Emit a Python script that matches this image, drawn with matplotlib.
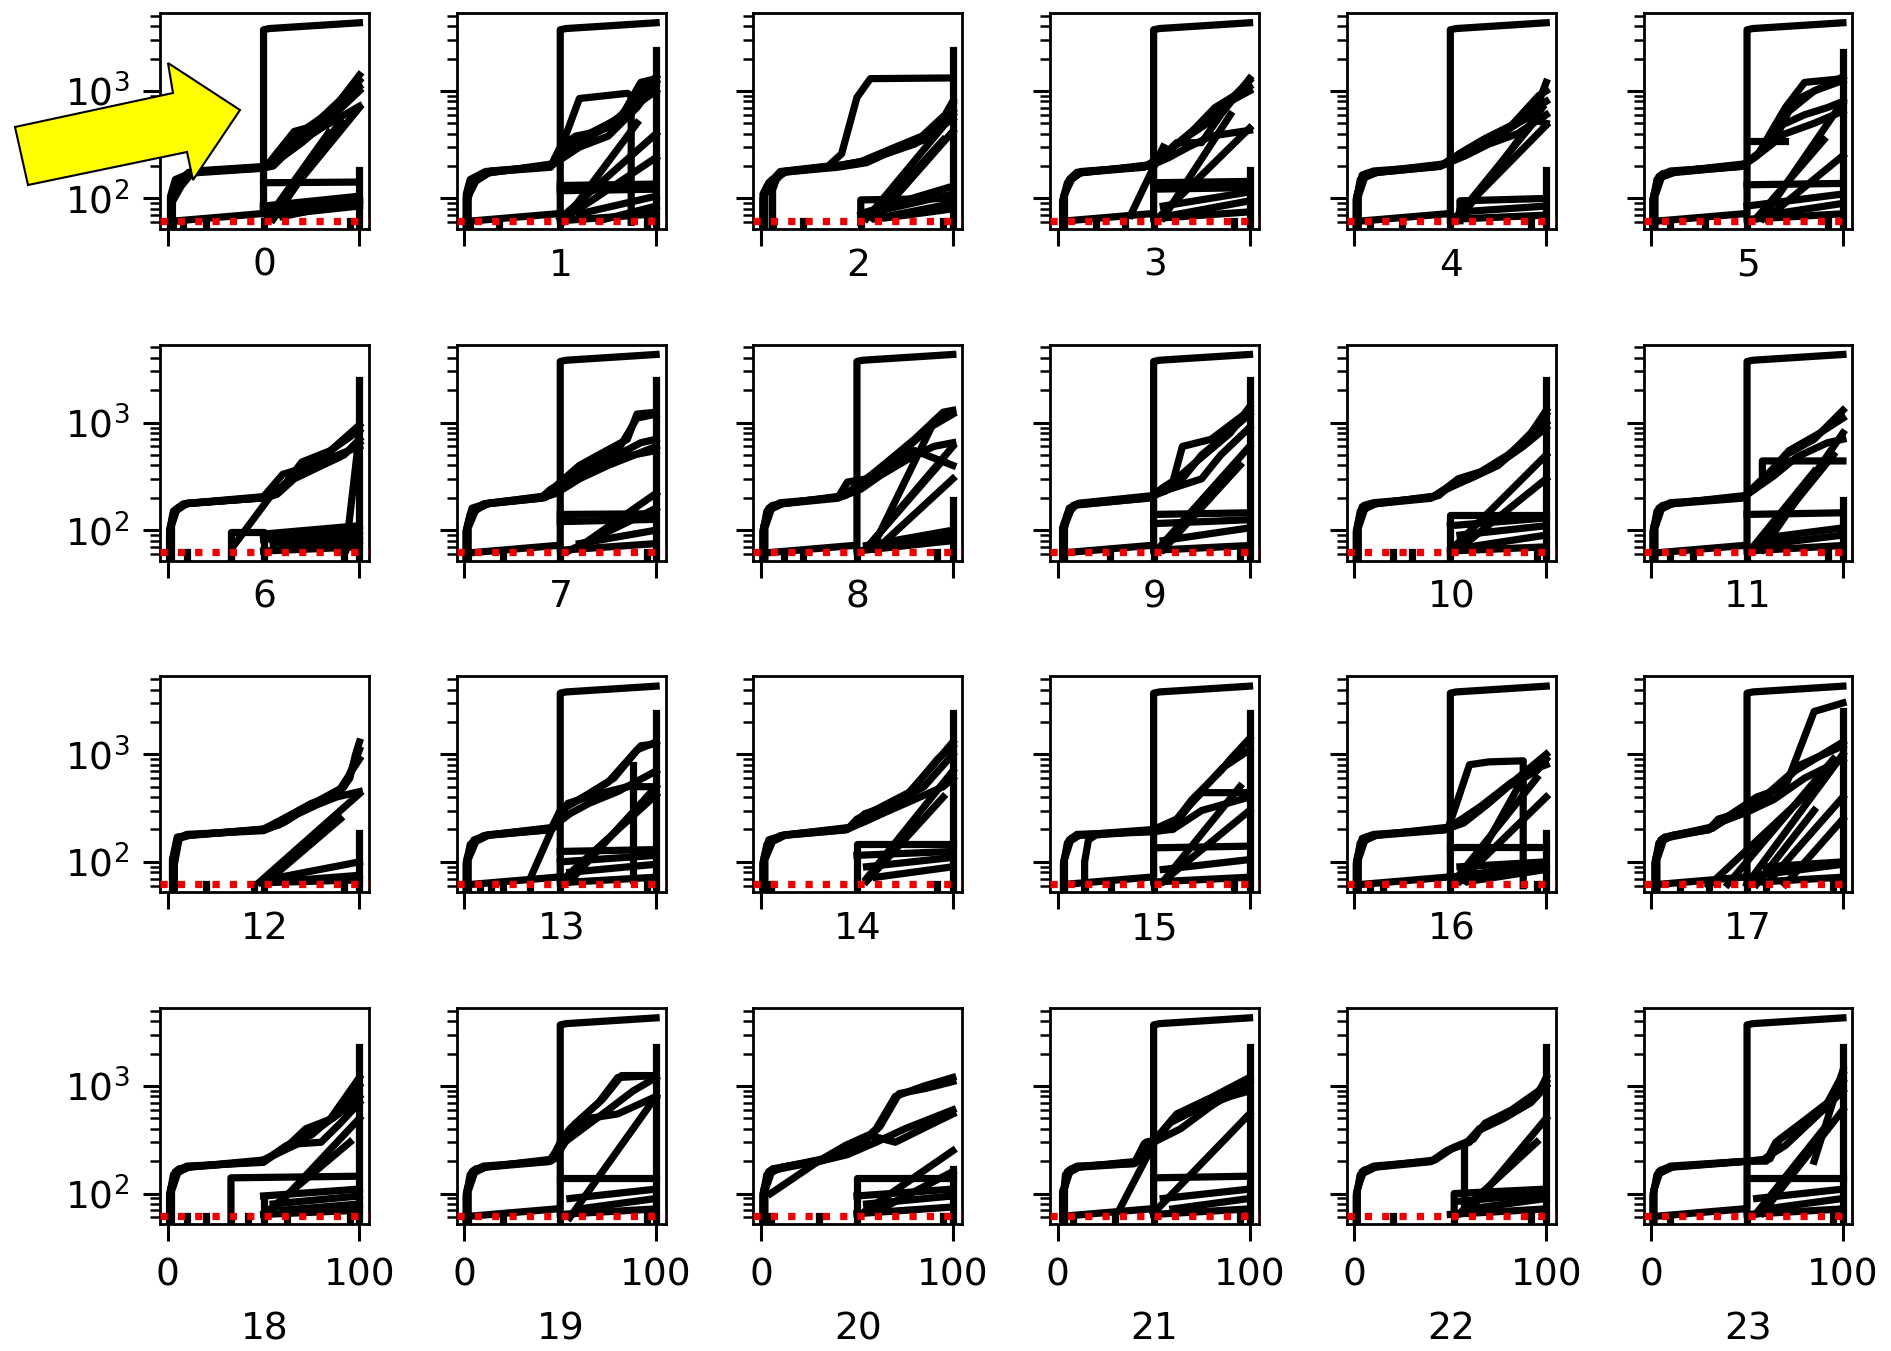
import matplotlib
matplotlib.use("Agg")
import matplotlib.pyplot as plt
from matplotlib.patches import Polygon
from matplotlib.ticker import NullFormatter, LogLocator

# ---------------- data ----------------
panel_labels = [str(i) for i in range(24)]
x_ticks = [0, 100]
y_ticks = [100, 1000]
threshold = 62

# outlier path (vertical jump at x=50), present in some panels
outlier_x = [5, 48, 50, 50, 53, 100]
outlier_y = [62, 72, 72, 3700, 3800, 4300]
outlier_panels = [0, 1, 3, 4, 5, 7, 8, 9, 11, 13, 15, 16, 17, 19, 21, 23]

# height of the vertical line at x=100 in each panel
spike_tops = [185, 2400, 2400, 185, 185, 2300,
              2500, 2500, 190, 2500, 2500, 190,
              185, 2400, 2400, 2400, 185, 2500,
              2300, 2300, 170, 2300, 2300, 2300]

# short segments hitting the bottom edge
notch_x = [[3, 8, 20, 50, 95], [3, 18, 50, 95], [1, 6, 22, 52, 95],
           [3, 20, 35, 50, 92], [1, 8, 25, 50, 92], [1, 10, 28, 50, 92],
           [1, 10, 33, 50, 92], [2, 20, 50, 95], [1, 12, 22, 50, 92],
           [3, 27, 50, 95], [1, 20, 30, 50, 95], [1, 10, 22, 50, 92],
           [3, 20, 45, 50, 92], [2, 8, 14, 20, 34, 50, 95], [1, 5, 50, 92],
           [3, 14, 28, 50, 92], [1, 8, 15, 50, 95], [2, 15, 30, 50, 60, 95],
           [1, 10, 20, 33, 42, 50, 62, 95], [2, 20, 50, 95], [1, 5, 30, 50, 95],
           [3, 8, 30, 50, 95], [1, 20, 52, 92], [1, 10, 50, 95]]

curves_p0 = [
    ([1.5, 1.5, 4, 10, 14, 50, 55, 65, 70, 80, 90, 100], [50, 100, 125, 165, 180, 198, 215, 380, 420, 560, 820, 1400]),
    ([2, 2, 6, 12, 15, 50, 56, 64, 72, 85, 100], [50, 95, 130, 170, 178, 195, 210, 330, 380, 620, 1250]),
    ([2.5, 2.5, 5, 11, 50, 55, 65, 80, 100], [52, 110, 140, 175, 192, 200, 300, 450, 720]),
    ([1.5, 1.5, 4, 12, 48, 52, 66, 78, 92, 100], [52, 105, 150, 172, 190, 205, 420, 480, 900, 1100]),
    ([2, 2, 7, 13, 50, 58, 70, 85, 100], [52, 90, 130, 176, 196, 230, 330, 560, 1000]),
    ([52, 84], [65, 410]), ([53, 100], [66, 700]), ([55, 90], [64, 520]),
    ([50, 100], [140, 142]), ([50, 100], [80, 100]), ([50, 100], [75, 90]),
    ([55, 100], [70, 85]), ([60, 100], [68, 95]), ([50, 100], [85, 105]),
]
curves_p1 = [
    ([1, 1, 4, 10, 14, 45, 50, 58, 70, 80, 88, 92, 100], [50, 100, 140, 170, 180, 198, 300, 380, 420, 500, 900, 1200, 1300]),
    ([1.5, 1.5, 5, 12, 45, 52, 60, 85, 87, 87], [50, 95, 150, 176, 195, 350, 850, 950, 900, 60]),
    ([1, 1, 3, 11, 45, 60, 75, 90, 100], [52, 110, 150, 178, 200, 300, 380, 700, 1200]),
    ([2, 2, 6, 13, 46, 55, 65, 80, 95, 100], [52, 105, 145, 174, 205, 320, 400, 550, 1100, 1350]),
    ([1.5, 1.5, 4, 12, 46, 56, 70, 85, 100], [52, 100, 140, 172, 210, 290, 420, 650, 1000]),
    ([50, 100], [65, 400]), ([52, 90], [62, 500]), ([55, 100], [70, 240]),
    ([50, 100], [132, 136]), ([50, 100], [118, 122]), ([60, 100], [72, 105]),
    ([70, 100], [62, 85]), ([50, 100], [62, 72]),
]
curves_p2 = [
    ([1, 1, 3, 10, 35, 42, 50, 57, 100], [50, 110, 130, 178, 200, 260, 870, 1300, 1320]),
    ([6, 6, 8, 12, 40, 50, 60, 70, 85, 95, 100], [52, 120, 150, 178, 200, 210, 240, 280, 350, 500, 750]),
    ([1.5, 1.5, 4, 11, 40, 55, 65, 80, 92, 100], [52, 105, 140, 175, 195, 215, 260, 320, 450, 650]),
    ([1, 1, 5, 12, 42, 58, 72, 88, 100], [52, 100, 145, 178, 205, 230, 300, 400, 550]),
    ([2, 2, 6, 13, 38, 52, 68, 84, 96, 100], [52, 110, 150, 176, 198, 220, 290, 380, 600, 800]),
    ([55, 100], [65, 600]), ([60, 100], [65, 420]), ([58, 95], [66, 350]),
    ([52, 52, 100], [60, 97, 100]), ([52, 100], [70, 110]), ([60, 100], [65, 90]),
    ([55, 100], [75, 130]), ([65, 100], [66, 80]),
]
curves_p3 = [
    ([3, 3, 6, 10, 48, 55, 62, 75, 85, 100], [50, 100, 150, 175, 200, 250, 330, 330, 600, 1300]),
    ([3.5, 3.5, 7, 12, 46, 52, 60, 70, 82, 100], [52, 110, 155, 178, 198, 230, 300, 420, 700, 1100]),
    ([2.5, 2.5, 5, 11, 47, 56, 66, 78, 90, 100], [52, 95, 140, 172, 205, 260, 360, 500, 800, 1000]),
    ([3, 3, 8, 13, 48, 58, 68, 80, 100], [52, 105, 160, 176, 200, 240, 300, 380, 430]),
    ([3, 3, 6, 12, 45, 54, 64, 76, 92, 100], [52, 100, 145, 174, 195, 245, 340, 520, 900, 1250]),
    ([38, 55], [70, 300]), ([52, 100], [65, 450]), ([55, 90], [66, 600]),
    ([50, 100], [140, 144]), ([50, 100], [122, 126]), ([55, 100], [85, 115]),
    ([60, 100], [70, 95]), ([50, 100], [65, 75]),
]
curves_p4 = [
    ([1, 1, 4, 10, 45, 50, 60, 75, 85, 95, 100], [50, 100, 165, 180, 200, 230, 280, 380, 500, 700, 1200]),
    ([1.5, 1.5, 5, 12, 46, 55, 65, 80, 92, 100], [52, 110, 160, 176, 205, 260, 330, 450, 650, 800]),
    ([1, 1, 3, 11, 44, 52, 62, 78, 90, 100], [52, 95, 150, 174, 198, 240, 300, 420, 560, 500]),
    ([2, 2, 6, 13, 47, 56, 68, 82, 96, 100], [52, 105, 170, 178, 210, 270, 360, 480, 900, 1000]),
    ([1, 1, 4, 12, 45, 58, 70, 85, 100], [52, 100, 155, 175, 200, 250, 320, 400, 600]),
    ([52, 100], [65, 480]), ([55, 98], [65, 700]), ([53, 95], [66, 550]),
    ([55, 55, 100], [62, 95, 100]), ([55, 100], [75, 85]), ([50, 100], [64, 70]),
]
curves_p5 = [
    ([1, 1, 4, 10, 48, 56, 62, 70, 80, 100], [50, 100, 160, 180, 200, 260, 400, 700, 1200, 1300]),
    ([1.5, 1.5, 5, 12, 48, 55, 65, 72, 85, 100], [52, 110, 165, 178, 205, 250, 440, 650, 1000, 1250]),
    ([1, 1, 3, 11, 47, 58, 68, 80, 92, 100], [52, 95, 150, 176, 198, 280, 480, 600, 700, 800]),
    ([2, 2, 6, 13, 49, 60, 70, 85, 100], [52, 105, 170, 178, 210, 300, 400, 500, 650]),
    ([1, 1, 4, 12, 47, 54, 64, 74, 90, 100], [52, 100, 155, 174, 200, 240, 330, 800, 1100, 1350]),
    ([50, 70], [345, 345]),
    ([58, 100], [65, 800]), ([55, 90], [66, 350]), ([60, 100], [65, 250]),
    ([50, 100], [134, 138]), ([50, 100], [85, 110]), ([60, 100], [70, 90]), ([50, 100], [64, 72]),
]
curves_p6 = [
    ([1, 1, 3, 8, 50, 55, 62, 70, 85, 100], [50, 100, 150, 175, 200, 210, 280, 430, 550, 950]),
    ([1.5, 1.5, 4, 10, 48, 56, 64, 74, 88, 100], [52, 105, 155, 178, 198, 220, 300, 400, 600, 850]),
    ([1, 1, 3, 9, 49, 58, 68, 80, 92, 100], [52, 95, 145, 176, 202, 230, 330, 420, 500, 700]),
    ([2, 2, 5, 11, 50, 60, 75, 100], [52, 110, 160, 178, 205, 330, 400, 600]),
    ([1, 1, 4, 10, 50, 57, 66, 78, 90, 100], [52, 100, 150, 177, 200, 215, 300, 380, 480, 650]),
    ([33, 33, 50, 50], [52, 97, 97, 60]),
    ([34, 57], [70, 250]), ([93, 100], [66, 800]),
    ([50, 100], [92, 110]), ([50, 100], [82, 98]), ([55, 100], [75, 88]),
    ([60, 100], [68, 80]), ([50, 100], [64, 70]),
]
curves_p7 = [
    ([1, 1, 5, 10, 40, 45, 55, 65, 80, 90, 100], [50, 100, 150, 175, 200, 240, 300, 400, 550, 1100, 1200]),
    ([1.5, 1.5, 4, 12, 42, 48, 60, 75, 85, 90, 100], [52, 110, 160, 178, 205, 260, 400, 560, 700, 1200, 1250]),
    ([1, 1, 3, 11, 40, 48, 60, 75, 100], [52, 95, 140, 176, 198, 220, 300, 400, 600]),
    ([2, 2, 6, 13, 44, 52, 64, 78, 92, 100], [52, 105, 155, 178, 210, 280, 360, 480, 650, 700]),
    ([1, 1, 4, 10, 42, 50, 62, 72, 88, 100], [52, 100, 150, 174, 200, 250, 330, 450, 500, 550]),
    ([60, 100], [70, 220]), ([55, 100], [65, 160]),
    ([50, 100], [140, 142]), ([50, 100], [120, 126]), ([60, 100], [75, 100]), ([50, 100], [65, 75]),
]
curves_p8 = [
    ([1, 1, 4, 10, 40, 45, 55, 65, 80, 95, 100], [50, 100, 160, 180, 200, 280, 300, 420, 700, 1250, 1300]),
    ([1.5, 1.5, 5, 12, 42, 50, 60, 72, 88, 100], [52, 110, 165, 178, 205, 260, 350, 500, 900, 1200]),
    ([1, 1, 3, 11, 40, 52, 62, 76, 90, 100], [52, 95, 150, 176, 198, 240, 320, 450, 600, 650]),
    ([2, 2, 6, 13, 44, 54, 66, 80, 100], [52, 105, 170, 178, 210, 290, 380, 550, 400]),
    ([55, 95], [68, 450]), ([55, 100], [68, 600]), ([58, 90], [68, 1000]), ([60, 100], [66, 300]),
    ([55, 100], [72, 100]), ([50, 100], [64, 80]), ([65, 100], [70, 90]),
]
curves_p9 = [
    ([3, 3, 6, 8, 48, 55, 62, 70, 90, 100], [50, 100, 150, 170, 200, 250, 300, 400, 800, 1400]),
    ([3.5, 3.5, 7, 10, 48, 56, 65, 75, 85, 100], [52, 110, 155, 175, 205, 230, 300, 500, 700, 1200]),
    ([3, 3, 5, 9, 47, 55, 75, 85, 100], [52, 95, 140, 172, 198, 230, 300, 500, 900]),
    ([2.5, 2.5, 6, 11, 50, 60, 65, 80, 100], [52, 105, 160, 178, 210, 280, 600, 700, 1300]),
    ([52, 100], [66, 600]), ([55, 95], [66, 400]),
    ([50, 100], [140, 145]), ([50, 100], [115, 125]), ([55, 100], [80, 105]), ([50, 100], [65, 72]),
]
curves_p10 = [
    ([1, 1, 5, 10, 40, 50, 60, 75, 90, 100], [50, 100, 170, 180, 200, 260, 300, 400, 700, 1300]),
    ([1.5, 1.5, 4, 12, 42, 52, 62, 78, 92, 100], [52, 110, 165, 178, 205, 280, 320, 450, 800, 1200]),
    ([1, 1, 3, 11, 40, 48, 58, 72, 88, 100], [52, 95, 150, 176, 198, 240, 290, 380, 600, 900]),
    ([2, 2, 6, 13, 44, 54, 66, 80, 100], [52, 105, 170, 178, 210, 300, 350, 500, 1000]),
    ([50, 50, 100], [60, 137, 137]),
    ([52, 100], [70, 500]), ([55, 100], [68, 300]),
    ([50, 100], [110, 130]), ([55, 100], [90, 110]), ([60, 100], [70, 90]), ([50, 100], [64, 70]),
]
curves_p11 = [
    ([1, 1, 4, 10, 48, 55, 60, 70, 85, 100], [50, 100, 160, 180, 200, 250, 300, 500, 700, 1300]),
    ([1.5, 1.5, 5, 12, 48, 56, 62, 72, 88, 100], [52, 110, 165, 178, 205, 260, 350, 550, 800, 1100]),
    ([1, 1, 3, 11, 47, 54, 64, 76, 92, 100], [52, 95, 150, 176, 198, 240, 320, 480, 650, 700]),
    ([2, 2, 6, 13, 49, 58, 58, 100], [52, 105, 170, 178, 210, 300, 440, 440]),
    ([55, 95], [66, 500]), ([58, 100], [66, 800]), ([52, 85], [66, 350]),
    ([50, 100], [140, 145]), ([60, 100], [85, 105]), ([55, 100], [72, 90]), ([50, 100], [64, 72]),
]
curves_p12 = [
    ([3, 3, 5, 10, 50, 60, 70, 80, 90, 95, 98, 100], [50, 100, 165, 180, 195, 230, 300, 380, 450, 600, 1000, 1300]),
    ([3, 3, 6, 12, 50, 62, 72, 82, 92, 97, 100], [52, 110, 170, 178, 200, 240, 320, 400, 500, 800, 1100]),
    ([3.5, 3.5, 6, 11, 48, 58, 68, 78, 88, 100], [52, 95, 165, 176, 198, 220, 280, 340, 400, 450]),
    ([2.5, 2.5, 5, 13, 50, 60, 75, 88, 96, 100], [52, 105, 170, 178, 202, 250, 350, 420, 700, 900]),
    ([48, 100], [65, 430]), ([52, 90], [66, 250]),
    ([55, 100], [70, 100]), ([60, 100], [66, 75]), ([50, 100], [64, 68]),
]
curves_p13 = [
    ([1, 1, 4, 10, 45, 50, 60, 75, 90, 100], [50, 100, 150, 175, 200, 300, 380, 550, 1100, 1300]),
    ([1.5, 1.5, 5, 12, 46, 52, 62, 78, 92, 100], [52, 110, 160, 178, 205, 320, 400, 600, 1200, 1250]),
    ([1, 1, 3, 11, 44, 55, 65, 80, 100], [52, 95, 145, 176, 198, 280, 350, 450, 700]),
    ([2, 2, 6, 13, 47, 54, 68, 85, 100], [52, 105, 155, 178, 210, 350, 420, 500, 500]),
    ([88, 88], [68, 800]),
    ([34, 50], [68, 300]), ([52, 100], [70, 420]), ([55, 100], [66, 500]),
    ([50, 100], [125, 130]), ([50, 100], [100, 115]), ([55, 100], [80, 95]), ([50, 100], [64, 72]),
]
curves_p14 = [
    ([1, 1, 5, 10, 45, 50, 60, 75, 90, 100], [50, 100, 150, 175, 200, 250, 300, 400, 800, 1300]),
    ([1.5, 1.5, 4, 12, 46, 52, 62, 78, 92, 100], [52, 110, 160, 178, 205, 260, 320, 450, 900, 1200]),
    ([1, 1, 3, 11, 44, 55, 65, 80, 95, 100], [52, 95, 145, 176, 198, 240, 290, 380, 500, 600]),
    ([2, 2, 6, 13, 47, 54, 68, 85, 100], [52, 105, 155, 178, 210, 280, 340, 500, 1000]),
    ([50, 50, 100], [68, 145, 145]),
    ([55, 100], [70, 700]), ([55, 95], [66, 400]),
    ([50, 100], [115, 125]), ([55, 100], [90, 110]), ([60, 100], [72, 90]),
]
curves_p15 = [
    ([3, 3, 6, 10, 50, 58, 70, 85, 90, 100], [50, 100, 160, 180, 190, 200, 380, 700, 900, 1400]),
    ([14, 14, 16, 20, 50, 60, 72, 86, 100], [52, 100, 160, 178, 195, 210, 400, 750, 1100]),
    ([3, 3, 5, 11, 48, 60, 75, 100], [52, 95, 150, 176, 195, 200, 300, 400]),
    ([3.5, 3.5, 7, 12, 50, 62, 75, 100], [52, 105, 165, 178, 200, 250, 440, 440]),
    ([55, 95], [66, 500]), ([55, 100], [66, 300]),
    ([50, 100], [135, 140]), ([55, 100], [85, 105]), ([50, 100], [65, 72]),
]
curves_p16 = [
    ([1, 1, 4, 10, 48, 55, 65, 80, 95, 100], [50, 100, 165, 180, 200, 240, 300, 500, 700, 900]),
    ([1.5, 1.5, 5, 12, 48, 56, 66, 82, 96, 100], [52, 110, 160, 178, 205, 250, 330, 550, 750, 800]),
    ([1, 1, 3, 11, 47, 57, 70, 85, 100], [52, 95, 150, 176, 198, 230, 350, 600, 1000]),
    ([2, 2, 6, 13, 49, 52, 60, 70, 88, 88], [52, 105, 170, 178, 210, 300, 800, 850, 870, 60]),
    ([52, 95], [66, 600]), ([55, 100], [66, 400]), ([58, 90], [66, 700]),
    ([50, 100], [137, 137]), ([55, 100], [90, 100]), ([50, 100], [72, 95]), ([60, 100], [66, 85]),
]
curves_p17 = [
    ([2, 2, 5, 10, 30, 35, 50, 60, 75, 100], [50, 100, 160, 170, 200, 250, 300, 400, 700, 1300]),
    ([2.5, 2.5, 6, 12, 32, 40, 52, 62, 78, 100], [52, 110, 165, 178, 205, 260, 320, 450, 800, 1200]),
    ([2, 2, 4, 11, 30, 38, 50, 64, 80, 100], [52, 95, 150, 176, 198, 240, 290, 380, 600, 900]),
    ([3, 3, 7, 13, 31, 42, 55, 70, 85, 100], [52, 105, 170, 178, 210, 280, 400, 500, 2500, 3000]),
    ([30, 90], [60, 600]), ([40, 95], [62, 900]), ([50, 100], [62, 1000]),
    ([60, 100], [62, 400]), ([70, 100], [62, 250]), ([55, 85], [62, 300]),
    ([60, 100], [90, 100]), ([55, 100], [75, 95]), ([50, 100], [64, 72]),
]
curves_p18 = [
    ([1, 1, 4, 10, 50, 60, 65, 75, 85, 100], [50, 100, 160, 180, 195, 260, 300, 350, 500, 1200]),
    ([1.5, 1.5, 5, 12, 50, 62, 70, 80, 92, 100], [52, 110, 165, 178, 200, 280, 320, 420, 600, 1000]),
    ([1, 1, 3, 11, 48, 58, 68, 80, 90, 100], [52, 95, 150, 176, 198, 240, 290, 300, 450, 700]),
    ([2, 2, 6, 13, 50, 60, 72, 86, 100], [52, 105, 170, 178, 205, 250, 400, 500, 800]),
    ([33, 33, 100], [52, 140, 145]), ([50, 50], [60, 95]),
    ([55, 100], [70, 500]), ([52, 95], [68, 300]),
    ([50, 100], [95, 110]), ([55, 100], [80, 95]), ([60, 100], [70, 80]), ([50, 100], [64, 70]),
]
curves_p19 = [
    ([1, 1, 4, 10, 45, 50, 55, 70, 80, 100], [50, 100, 160, 180, 200, 300, 400, 700, 1200, 1250]),
    ([1.5, 1.5, 5, 12, 46, 52, 58, 72, 82, 100], [52, 110, 165, 178, 205, 320, 450, 750, 1250, 1250]),
    ([1, 1, 3, 11, 44, 50, 60, 75, 88, 100], [52, 95, 150, 176, 198, 280, 380, 600, 900, 1200]),
    ([2, 2, 6, 13, 47, 55, 65, 80, 100], [52, 105, 170, 178, 210, 350, 500, 550, 800]),
    ([55, 100], [60, 800]),
    ([50, 100], [140, 140]), ([55, 100], [90, 110]), ([60, 100], [72, 90]), ([50, 100], [64, 72]),
]
curves_p20 = [
    ([1, 1, 4, 10, 30, 40, 50, 60, 70, 85, 100], [50, 100, 160, 170, 200, 250, 270, 400, 800, 1000, 1200]),
    ([1.5, 1.5, 5, 12, 32, 42, 52, 62, 72, 86, 100], [52, 110, 165, 178, 205, 260, 280, 420, 850, 950, 1100]),
    ([1, 1, 3, 11, 30, 45, 60, 75, 100], [52, 95, 150, 176, 198, 230, 300, 400, 600]),
    ([5, 30], [100, 200]),
    ([2, 2, 6, 13, 32, 44, 56, 70, 90, 100], [52, 105, 170, 178, 210, 280, 350, 300, 450, 550]),
    ([50, 50, 100], [65, 140, 140]),
    ([55, 100], [70, 250]), ([60, 100], [68, 160]),
    ([50, 100], [95, 110]), ([55, 100], [80, 95]), ([50, 100], [65, 75]),
]
curves_p21 = [
    ([3, 3, 5, 10, 40, 45, 50, 60, 75, 100], [50, 100, 160, 180, 190, 290, 300, 500, 700, 1200]),
    ([3.5, 3.5, 6, 12, 40, 46, 52, 62, 78, 100], [52, 110, 165, 178, 195, 300, 320, 550, 750, 1000]),
    ([3, 3, 4, 11, 40, 48, 58, 72, 90, 100], [52, 95, 150, 176, 190, 280, 450, 600, 800, 900]),
    ([2.5, 2.5, 7, 13, 42, 50, 64, 80, 100], [52, 105, 170, 178, 200, 300, 400, 650, 1100]),
    ([32, 50], [70, 290]), ([50, 100], [66, 550]),
    ([50, 100], [140, 145]), ([55, 100], [90, 110]), ([60, 100], [72, 90]), ([50, 100], [64, 72]),
]
curves_p22 = [
    ([1, 1, 4, 10, 40, 50, 60, 65, 80, 95, 100], [50, 100, 160, 180, 200, 260, 300, 400, 550, 800, 1200]),
    ([1.5, 1.5, 5, 12, 42, 52, 62, 68, 82, 96, 100], [52, 110, 165, 178, 205, 270, 320, 450, 600, 900, 1100]),
    ([1, 1, 3, 11, 40, 48, 58, 64, 78, 92, 100], [52, 95, 150, 176, 198, 250, 290, 380, 500, 700, 1000]),
    ([57, 57], [75, 280]), ([52, 52, 100], [70, 100, 110]),
    ([60, 100], [70, 500]), ([55, 95], [66, 300]),
    ([55, 100], [85, 100]), ([60, 100], [72, 90]), ([50, 100], [64, 72]),
]
curves_p23 = [
    ([1, 1, 4, 10, 50, 60, 65, 75, 90, 100], [50, 100, 160, 180, 200, 200, 300, 400, 600, 1300]),
    ([1.5, 1.5, 5, 12, 50, 62, 67, 78, 92, 100], [52, 110, 165, 178, 200, 210, 320, 450, 700, 1100]),
    ([1, 1, 3, 11, 48, 58, 70, 85, 100], [52, 95, 150, 176, 198, 205, 280, 500, 900]),
    ([85, 100], [200, 1400]),
    ([55, 90], [66, 400]), ([58, 100], [66, 600]),
    ([50, 100], [140, 140]), ([55, 100], [90, 110]), ([60, 100], [72, 90]), ([50, 100], [64, 72]),
]

panel_curves = [curves_p0, curves_p1, curves_p2, curves_p3, curves_p4, curves_p5,
                curves_p6, curves_p7, curves_p8, curves_p9, curves_p10, curves_p11,
                curves_p12, curves_p13, curves_p14, curves_p15, curves_p16, curves_p17,
                curves_p18, curves_p19, curves_p20, curves_p21, curves_p22, curves_p23]

# ---------------- layout ----------------
W, H = 1891, 1351
fig = plt.figure(figsize=(W / 100, H / 100), dpi=100)
FS = 27
LW = 5.2

for i in range(24):
    r, c = divmod(i, 6)
    left = 160 + 296.7 * c
    top = 13 + 331.7 * r
    ax = fig.add_axes([left / W, 1 - (top + 216) / H, 209 / W, 216 / H])
    ax.set_yscale("log")

    for xs, ys in panel_curves[i]:
        ax.plot(xs, ys, color="black", lw=LW, solid_joinstyle="round")
    ax.plot([100, 100], [45, spike_tops[i]], color="black", lw=LW)
    if i in outlier_panels:
        ax.plot(outlier_x, outlier_y, color="black", lw=LW)
    for nx in notch_x[i]:
        ax.plot([nx, nx], [45, threshold], color="black", lw=LW)

    ax.axhline(threshold, color="#ee0000", lw=5.2, ls=(0, (1.0, 1.4)), zorder=5)

    ax.set_xlim(-4, 105)
    ax.set_ylim(52, 5300)
    ax.set_xticks(x_ticks)
    ax.set_yticks(y_ticks)
    ax.yaxis.set_minor_locator(LogLocator(base=10, subs=range(2, 10)))
    ax.yaxis.set_minor_formatter(NullFormatter())
    ax.tick_params(axis="both", which="major", length=12, width=2.2, direction="out")
    ax.tick_params(axis="y", which="minor", length=7, width=1.8)
    ax.tick_params(axis="x", pad=12, labelsize=FS)
    ax.tick_params(axis="y", pad=10, labelsize=FS)
    if r < 3:
        ax.tick_params(axis="x", labelbottom=False)
        pad = 1.5
    else:
        ax.set_xticklabels([str(v) for v in x_ticks])
        pad = 13
    if c > 0:
        ax.tick_params(axis="y", labelleft=False)
    for s in ax.spines.values():
        s.set_linewidth(2.0)
    ax.set_xlabel(panel_labels[i], fontsize=FS, labelpad=pad)

# yellow arrow annotation
arrow_px = [(15, 127), (173, 93), (168, 63), (240, 110), (193, 180), (187, 152), (28, 185)]
arrow = Polygon([(x / W, 1 - y / H) for x, y in arrow_px], closed=True,
                transform=fig.transFigure, facecolor="#ffff00", edgecolor="black",
                lw=1.5, zorder=20)
fig.add_artist(arrow)

fig.savefig("out.png", dpi=100)
